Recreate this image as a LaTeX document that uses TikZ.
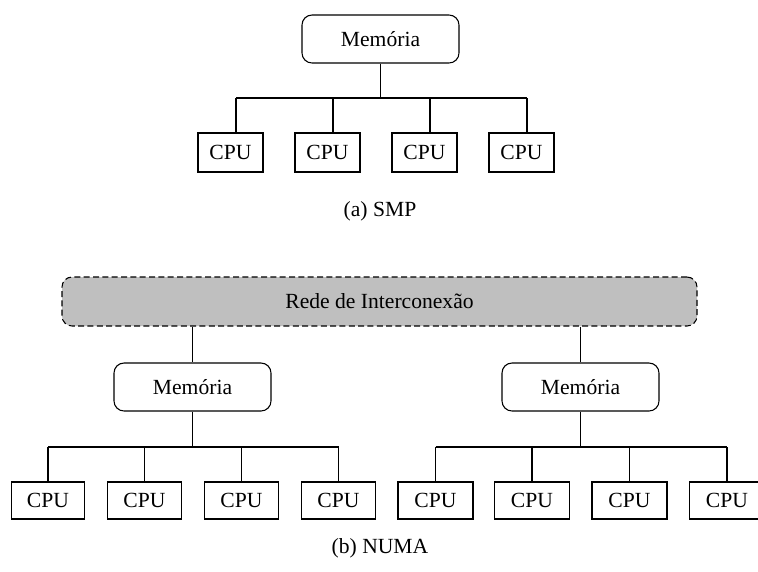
\documentclass[tikz,border=0pt]{standalone}
\usepackage{fontspec}
\setmainfont{Liberation Serif}
\begin{document}
\begin{tikzpicture}[x=0.75pt,y=-0.75pt,
  every node/.style={font=\fontsize{16.2}{19}\selectfont, inner sep=0pt},
  membox/.style={draw, line width=0.8pt, rounded corners=7.5pt, minimum width=117.75pt, minimum height=36pt},
  cpubox/.style={draw, line width=0.8pt, minimum height=#1},
  cpubox/.default=29.25pt,
  netbox/.style={draw, dashed, dash pattern=on 4.5pt off 2.5pt, line width=0.8pt, fill=black!25,
    rounded corners=7.5pt, minimum width=476.25pt, minimum height=36.75pt},
  wire/.style={line width=0.8pt}]
\useasboundingbox (0,0) rectangle (758,572);

% ---------- (a) SMP ----------
\node[membox] (smem) at (380.5,39) {Memória};
\foreach \i/\cx in {1/230.5,2/327.5,3/424.5,4/521.5}
  \node[cpubox, minimum width=48.75pt] (sc\i) at (\cx,152.5) {CPU};
\foreach \i/\lx in {1/236,2/333,3/430,4/527}
  \coordinate (sd\i) at (\lx,98);
\draw[wire] (smem.south) -- (smem.south |- sd1);
\draw[wire] (sd1) -- (sd4);
\foreach \i in {1,...,4}
  \draw[wire] (sd\i) -- (sd\i |- sc\i.north);
\node (capa) at (380,211) {(a) SMP};

% ---------- (b) NUMA ----------
\node[netbox] (net) at (379.5,301.5) {Rede de Interconexão};
\node[membox] (lmem) at (192.5,387) {Memória};
\node[membox] (rmem) at (580.5,387) {Memória};
\draw[wire] (net.south -| lmem) -- (lmem.north);
\draw[wire] (net.south -| rmem) -- (rmem.north);

\foreach \i/\cx in {1/48,2/144.5,3/241.5,4/338.5}
  \node[cpubox=27.75pt, minimum width=55pt] (lc\i) at (\cx,500.5) {CPU};
\foreach \i/\cx in {1/435.5,2/532,3/629.5,4/727}
  \node[cpubox=27.75pt, minimum width=56.25pt] (rc\i) at (\cx,500.5) {CPU};

\coordinate (lbus) at (0,447);
\draw[wire] (lmem.south) -- (lmem.south |- lbus);
\draw[wire] (rmem.south) -- (rmem.south |- lbus);
\draw[wire] (lc1.north |- lbus) -- (lc4.north |- lbus);
\draw[wire] (rc1.north |- lbus) -- (rc4.north |- lbus);
\foreach \i in {1,...,4}{
  \draw[wire] (lc\i.north |- lbus) -- (lc\i.north);
  \draw[wire] (rc\i.north |- lbus) -- (rc\i.north);
}
\node (capb) at (380,548) {(b) NUMA};
\end{tikzpicture}
\end{document}
